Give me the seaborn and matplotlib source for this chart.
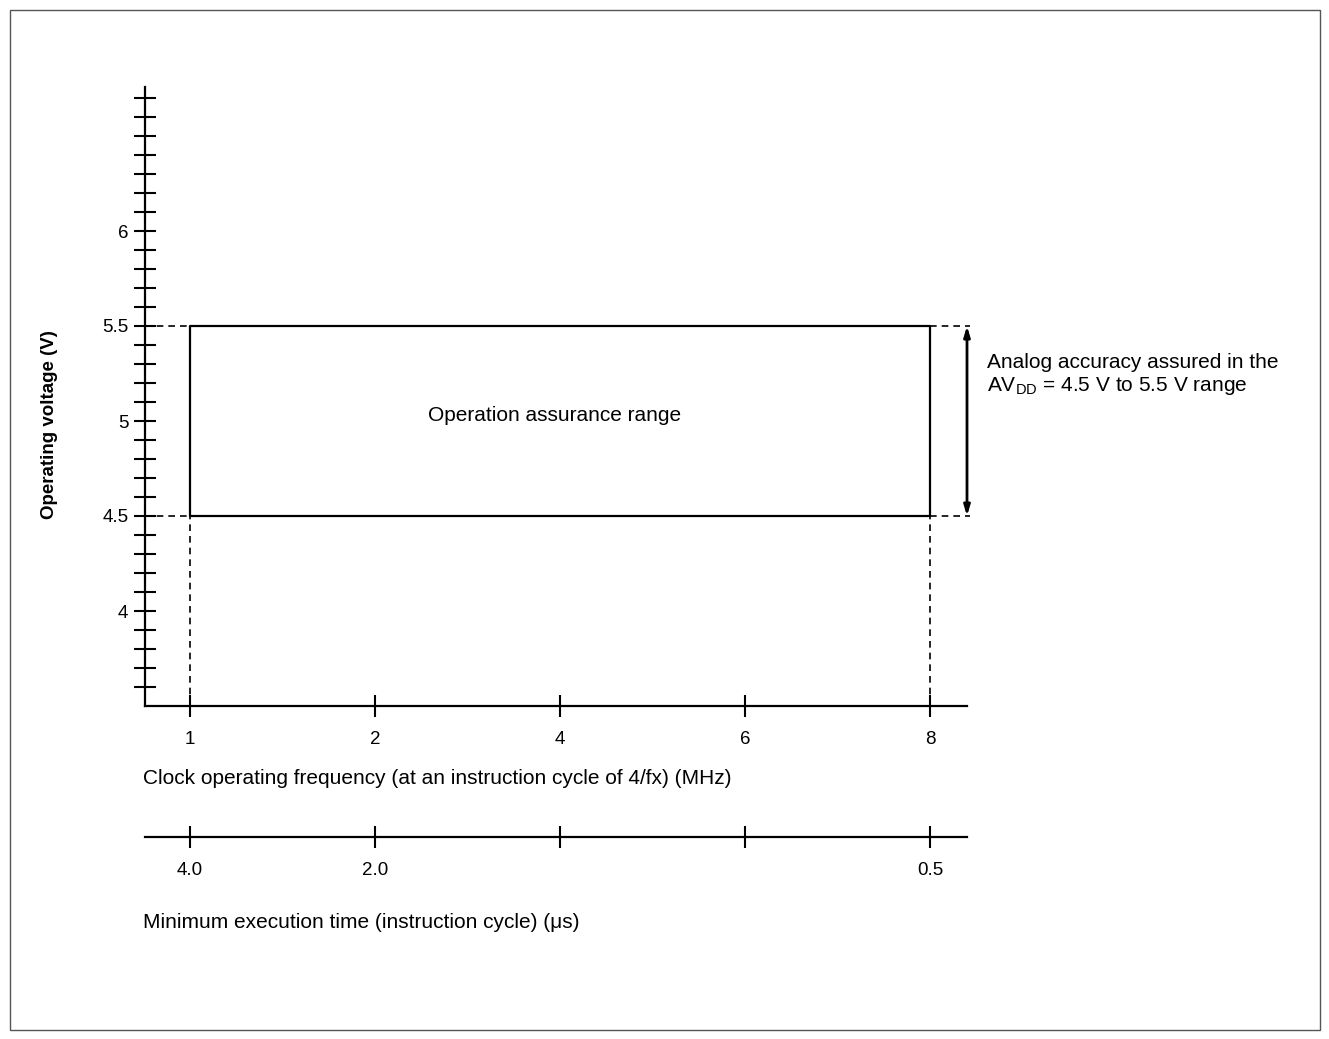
import numpy as np
import pandas as pd
import matplotlib
matplotlib.use("Agg")
import matplotlib.pyplot as plt
import seaborn as sns
from matplotlib.patches import Rectangle

# ---- data ----
freq_labels = ["1", "2", "4", "6", "8"]          # clock frequency (MHz)
exec_labels = ["4.0", "2.0", "", "", "0.5"]      # min execution time (us)
v_low = 4.5
v_high = 5.5
y_major = [4.0, 4.5, 5.0, 5.5, 6.0]
y_major_labels = ["4", "4.5", "5", "5.5", "6"]
y_minor = [3.6, 3.7, 3.8, 3.9, 4.1, 4.2, 4.3, 4.4, 4.6, 4.7, 4.8, 4.9,
           5.1, 5.2, 5.3, 5.4, 5.6, 5.7, 5.8, 5.9, 6.1, 6.2, 6.3, 6.4,
           6.5, 6.6, 6.7]

sns.set_theme(style="ticks")
plt.rcParams['font.family'] = ['Liberation Sans', 'DejaVu Sans']

W, H = 1329, 1039
fig = plt.figure(figsize=(W / 100, H / 100), dpi=100)


def fx(px):
    return px / W


def fy(py):
    return 1 - py / H


pos = np.arange(len(freq_labels))
x_first, x_last = pos[0], pos[-1]
xlim = (-45 / 185, x_last + 37 / 185)

ax = fig.add_axes([fx(145), fy(706), fx(967) - fx(145), fy(87) - fy(706)])
ax.set_xlim(*xlim)
ax.set_ylim(3.5, 3.5 + 619 / 190)

# operation assurance rectangle
rect_df = pd.DataFrame({"x": [x_first, x_first, x_last, x_last, x_first],
                        "y": [v_low, v_high, v_high, v_low, v_low]})
sns.lineplot(data=rect_df, x="x", y="y", sort=False, estimator=None,
             color="black", lw=1.6, ax=ax)

dash = (0, (4, 3))
for v in (v_low, v_high):
    ax.plot([xlim[0], x_first], [v, v], color="black", lw=1.2, ls=dash, clip_on=False)
    ax.plot([x_last, x_last + 40 / 185], [v, v], color="black", lw=1.2, ls=dash, clip_on=False)
for xv in (x_first, x_last):
    ax.plot([xv, xv], [3.5, v_low], color="black", lw=1.2, ls=dash, clip_on=False)

ax.annotate("", xy=(x_last + 37 / 185, v_high), xytext=(x_last + 37 / 185, v_low),
            arrowprops=dict(arrowstyle="<|-|>,head_length=0.5,head_width=0.15",
                            color="black", lw=2, shrinkA=0, shrinkB=0),
            annotation_clip=False)

ax.text((x_first + x_last) / 2 - 0.03, 5.03, "Operation assurance range",
        ha="center", va="center", fontsize=15, color="black")

# axes styling
for s in ("top", "right"):
    ax.spines[s].set_visible(False)
for s in ("left", "bottom"):
    ax.spines[s].set_color("black")
    ax.spines[s].set_linewidth(1.6)

ax.set_xticks(pos, freq_labels)
ax.set_yticks(y_major, y_major_labels)
ax.set_yticks(y_minor, minor=True)
ax.tick_params(axis="x", which="both", bottom=True, top=False)
ax.tick_params(axis="y", which="both", left=True, right=False)
ax.tick_params(axis="both", which="both", direction="inout", length=16,
               width=1.5, color="black", labelsize=13.5, labelcolor="black")
ax.tick_params(axis="x", pad=10)
ax.tick_params(axis="y", pad=4)
ax.set_xlabel("")
ax.set_ylabel("")
ax.grid(False)

# second (execution time) axis
ax2 = fig.add_axes([fx(145), fy(837), fx(967) - fx(145), 0.0001])
ax2.set_xlim(*xlim)
ax2.set_ylim(0, 1)
for s in ("top", "right", "left"):
    ax2.spines[s].set_visible(False)
ax2.spines["bottom"].set_color("black")
ax2.spines["bottom"].set_linewidth(1.6)
ax2.set_yticks([])
ax2.set_xticks(pos, exec_labels)
ax2.tick_params(axis="x", bottom=True, direction="inout", length=16, width=1.5,
                color="black", labelsize=13.5, labelcolor="black", pad=10)
ax2.patch.set_alpha(0)

# texts
fig.text(fx(143), fy(779), "Clock operating frequency (at an instruction cycle of 4/fx) (MHz)",
         ha="left", va="center", fontsize=15, color="black")
fig.text(fx(143), fy(922), "Minimum execution time (instruction cycle) (\u03bcs)",
         ha="left", va="center", fontsize=15, color="black")
fig.text(fx(50), fy(425), "Operating voltage (V)", rotation=90, ha="center", va="center",
         fontsize=13.5, fontweight="bold", color="black")
fig.text(fx(987), fy(362), "Analog accuracy assured in the",
         ha="left", va="center", fontsize=15, color="black")
fig.text(fx(987), fy(386), "AV$_\\mathregular{DD}$ = 4.5 V to 5.5 V range",
         ha="left", va="center", fontsize=15, color="black")

# outer frame
fig.add_artist(Rectangle((fx(10), fy(1030)), fx(1320) - fx(10), fy(10) - fy(1030),
                         transform=fig.transFigure, fill=False, ec="#555555", lw=1))

fig.savefig("out.png", dpi=100, facecolor="white")
